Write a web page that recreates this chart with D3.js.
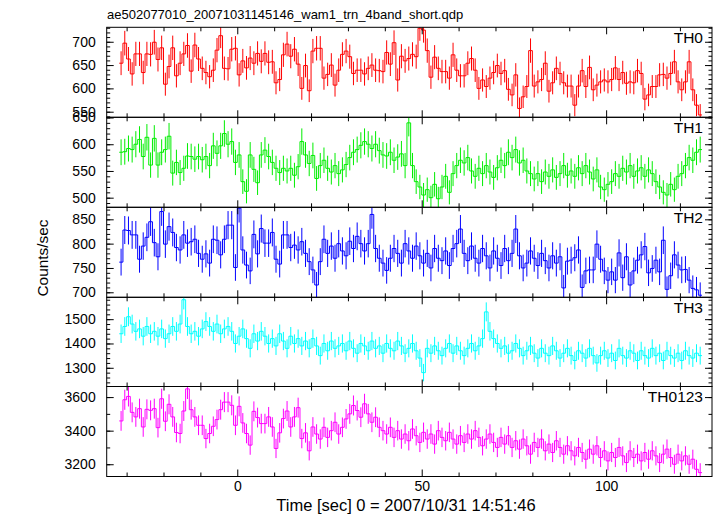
<!DOCTYPE html>
<html><head><meta charset="utf-8">
<script src="https://cdn.jsdelivr.net/npm/d3@7"></script>
<style>
body{margin:0;background:#fff}
svg text{font-family:"Liberation Sans",Arial,Helvetica,sans-serif;fill:#000}
</style></head>
<body>
<svg id="chart" width="717" height="516"></svg>
<script>
// ---------------- data ----------------
const chartTitle = "ae502077010_20071031145146_wam1_trn_4band_short.qdp";
const xLabel = "Time [sec] 0 = 2007/10/31 14:51:46";
const yLabel = "Counts/sec";
const binStart = -32;   // first bin start time (s)
const binWidth = 1;     // bin width (s)

const panelNames = ["TH0", "TH1", "TH2", "TH3", "TH0123"];
const panelColors = ["#ff0000", "#00ee00", "#0000ff", "#00ffff", "#ff00ff"];
const panelDomains = [[538, 731], [482, 650.4], [689.7, 874.7], [1223, 1590], [3127, 3663]];
const panelMajor = [50, 50, 50, 100, 200];
const panelMinor = [10, 10, 10, 20, 100];
const xTickLabels = [0, 50, 100];

const th0 = [654,697,663,631,674,674,634,674,673,699,662,687,609,647,687,627,654,674,692,637,693,663,643,634,625,639,682,713,643,642,684,686,
629,659,644,665,654,675,658,675,656,657,612,619,672,695,669,684,652,600,649,595,680,
686,686,622,630,650,607,639,673,680,668,632,639,639,631,643,650,639,638,636,677,652,698,618,669,659,664,673,668,
729,725,681,624,667,643,636,636,622,672,639,627,627,654,664,639,600,618,604,622,634,649,
632,638,598,586,629,557,582,604,681,605,614,619,654,594,612,643,632,612,605,605,564,605,638,604,645,597,607,614,618,614,619,644,619,634,611,614,612,638,632,577,586,604,604,629,630,622,632,657,614,597,614,657,597,564,543];

const th1 = [585,586,592,590,600,609,577,613,561,611,561,585,590,615,546,566,547,555,578,577,572,577,571,577,560,597,583,597,620,600,605,566,
580,530,512,580,553,528,580,589,577,566,555,547,555,550,555,542,558,605,580,564,579,536,
560,570,555,548,560,545,552,562,
575,585,590,598,605,600,592,600,588,580,
578,585,570,576,582,560,640,560,530,520,
505,515,500,525,498,520,540,510,545,560,
570,565,575,550,540,555,545,560,548,538,
556,570,560,585,575,590,565,570,550,545,
535,545,530,548,540,552,538,545,560,542,
550,540,556,545,560,548,535,552,520,515,
525,530,545,540,555,548,560,540,550,556,
540,552,545,530,520,510,505,525,515,540,
545,560,575,570,585,590];

const th2 = [762,828,827,818,818,768,795,813,845,802,773,866,799,835,823,792,787,818,801,804,809,780,768,779,760,809,
807,777,809,838,838,751,
873,787,756,744,819,779,831,801,801,823,768,758,818,818,792,797,787,804,780,763,746,715,763,809,
780,795,770,800,785,775,
805,790,815,800,785,800,860,790,770,760,
745,770,790,780,760,800,785,770,795,775,
760,780,750,790,770,765,785,755,790,800,
830,780,765,795,770,760,790,775,750,785,
770,755,790,765,780,830,775,750,760,785,
770,755,780,765,750,775,760,
773,709,764,766,771,787,710,744,746,746,799,768,744,725,742,725,781,730,773,715,744,766,777,794,740,749,766,742,807,706,734,777,756,746,747,725,708,705,694];

const th3 = [1440,1470,1510,1480,1450,1460,1430,1470,1440,1450,
1430,1460,1420,1440,1470,1450,1480,1580,1470,1440,
1450,1430,1460,1490,1470,1450,1480,1440,1460,1470,
1450,1400,1430,1460,1420,1380,1440,1410,1450,1430,
1400,1420,1390,1440,1410,1380,1430,1400,1420,1390,
1410,1380,1420,1390,1350,1400,1370,1410,1380,1390,
1400,1370,1410,1380,1360,1400,1390,1370,1410,1380,
1390,1360,1400,1380,1370,1410,1390,1360,1380,1400,
1370,1340,1280,1380,1360,1390,1370,1350,1380,1400,
1360,1390,1370,1350,1380,1400,1370,1390,1420,1530,
1450,1420,1400,1380,1390,1360,1370,1400,1380,1350,
1370,1390,1360,1340,1380,1360,1350,1390,1370,1340,
1360,1380,1350,1330,1370,1360,1340,1380,1350,1320,
1350,1370,1340,1360,1330,1380,1350,1340,1370,1360,
1330,1370,1350,1340,1380,1350,1360,1330,1370,1350,
1340,1360,1330,1370,1350,1340,1360,1350];

const th0123 = [3458,3584,3604,3509,3482,3531,3422,3527,3521,3531,3418,3590,3456,3557,3482,3389,3383,3517,3649,3525,3482,3432,3432,3353,3383,3426,3466,3525,3570,3570,3551,3432,
3545,3446,3383,3314,3515,3478,3442,3442,3482,3422,3294,3387,3472,3517,3422,3482,3537,3353,3387,3280,3422,
3380,3350,3420,3360,3400,3450,3380,3420,3470,3500,
3550,3520,3480,3560,3500,3450,3480,3420,3400,3380,
3420,3360,3400,3350,3380,3340,3410,3370,3330,3390,
3350,3380,3320,3400,3360,3340,3390,3350,3320,3370,
3330,3380,3350,3400,3360,3310,3350,3380,3330,3300,
3360,3320,3370,3300,3340,3290,3350,3310,3260,3330,
3300,3350,3280,3320,3270,3340,3300,3260,3310,3280,
3250,3300,3270,3230,3290,3260,3310,3240,3280,3220,
3270,3240,3300,3250,3210,3280,3240,3260,3220,3270,
3230,3280,3250,3210,3260,3290,3240,3200,3260,3220,
3250,3200,3230,3170,3150];

const panelValues = [th0, th1, th2, th3, th0123];

// ---------------- layout ----------------
const svg = d3.select("#chart");
const left = 106.7, right = 712;
const panelTops = [27.3, 117.3, 207.3, 297.3, 386.5];
const panelBottom = 476.5;
const x = d3.scaleLinear().domain([-35.4, 128.7]).range([left, right]);

const xMinor = d3.range(-30, 130, 10);

svg.append("text").attr("x", 107).attr("y", 19).attr("font-size", 13).text(chartTitle);

panelNames.forEach((name, i) => {
  const top = panelTops[i];
  const bottom = i < 4 ? panelTops[i + 1] : panelBottom;
  const y = d3.scaleLinear().domain(panelDomains[i]).range([bottom, top]);
  const g = svg.append("g");
  const clipId = "clip" + i;
  svg.append("clipPath").attr("id", clipId).append("rect")
    .attr("x", left).attr("y", top).attr("width", right - left).attr("height", bottom - top);

  const vals = panelValues[i];
  const color = panelColors[i];
  const data = vals.map((v, k) => ({t0: binStart + k * binWidth, t1: binStart + (k + 1) * binWidth, v: v, e: Math.sqrt(v / binWidth)}));

  const dg = g.append("g").attr("clip-path", `url(#${clipId})`);
  // error bars
  dg.selectAll("line.err").data(data).join("line")
    .attr("x1", d => x((d.t0 + d.t1) / 2)).attr("x2", d => x((d.t0 + d.t1) / 2))
    .attr("y1", d => y(d.v - d.e)).attr("y2", d => y(d.v + d.e))
    .attr("stroke", color).attr("stroke-width", 1);
  // step line
  const pts = [];
  data.forEach(d => { pts.push([d.t0, d.v]); pts.push([d.t1, d.v]); });
  dg.append("path").datum(pts)
    .attr("d", d3.line().x(p => x(p[0])).y(p => y(p[1])))
    .attr("fill", "none").attr("stroke", color).attr("stroke-width", 1);

  // frame
  g.append("rect").attr("x", left).attr("y", top).attr("width", right - left).attr("height", bottom - top)
    .attr("fill", "none").attr("stroke", "#000").attr("stroke-width", 1);

  // y ticks
  const dom = panelDomains[i];
  const minorVals = d3.range(Math.ceil(dom[0] / panelMinor[i]) * panelMinor[i], dom[1], panelMinor[i]);
  const majorVals = d3.range(Math.ceil(dom[0] / panelMajor[i]) * panelMajor[i], dom[1], panelMajor[i]);
  const yl = g.append("g").attr("transform", `translate(${left},0)`);
  yl.call(d3.axisLeft(y).tickValues(minorVals).tickSize(-3.5).tickFormat(""));
  const ylM = g.append("g").attr("transform", `translate(${left},0)`);
  ylM.call(d3.axisLeft(y).tickValues(majorVals).tickSize(-7).tickPadding(11).tickFormat(d3.format("d")));
  const yr = g.append("g").attr("transform", `translate(${right},0)`);
  yr.call(d3.axisRight(y).tickValues(minorVals).tickSize(-3.5).tickFormat(""));
  yr.append("g").call(d3.axisRight(y).tickValues(majorVals).tickSize(-7).tickFormat(""));

  // x ticks top and bottom
  const xb = g.append("g").attr("transform", `translate(0,${bottom})`);
  xb.call(d3.axisBottom(x).tickValues(xMinor.filter(v => v % 50 !== 0)).tickSize(-4).tickFormat(""));
  const xbM = g.append("g").attr("transform", `translate(0,${bottom})`);
  xbM.call(d3.axisBottom(x).tickValues(xTickLabels).tickSize(-7).tickPadding(i === 4 ? 5 : 0)
    .tickFormat(i === 4 ? d3.format("d") : ""));
  const xt = g.append("g").attr("transform", `translate(0,${top})`);
  xt.call(d3.axisTop(x).tickValues(xMinor.filter(v => v % 50 !== 0)).tickSize(-4).tickFormat(""));
  xt.append("g").call(d3.axisTop(x).tickValues(xTickLabels).tickSize(-7).tickFormat(""));

  g.selectAll(".domain").remove();
  g.selectAll(".tick line").attr("stroke", "#000");
  g.selectAll(".tick text").attr("font-size", 14).attr("font-family", "Liberation Sans, Arial, sans-serif").attr("fill", "#000");

  g.append("text").attr("x", 703).attr("y", top + 15.6).attr("text-anchor", "end")
    .attr("font-size", 15.5).text(name);
});

svg.append("text").attr("x", 406).attr("y", 510.5).attr("text-anchor", "middle").attr("font-size", 16.5).text(xLabel);
svg.append("text").attr("transform", "translate(48,258) rotate(-90)").attr("text-anchor", "middle")
  .attr("font-size", 15.4).text(yLabel);
</script>
</body></html>
